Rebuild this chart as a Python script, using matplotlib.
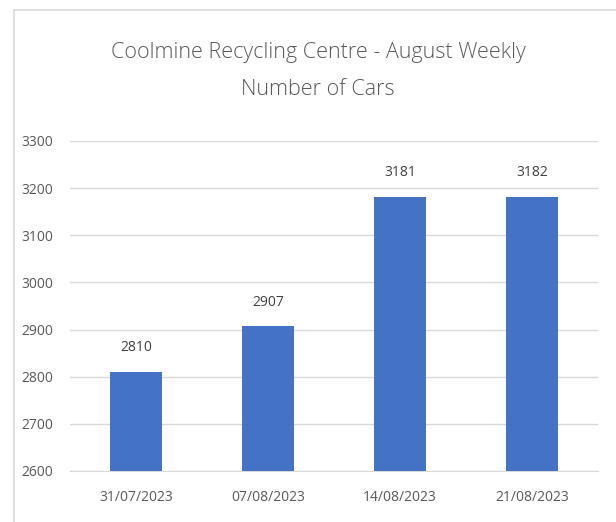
import matplotlib
matplotlib.use("Agg")
import matplotlib.pyplot as plt
from matplotlib.lines import Line2D

categories = ["31/07/2023", "07/08/2023", "14/08/2023", "21/08/2023"]
cars = [2810, 2907, 3181, 3182]
yticks = [2600, 2700, 2800, 2900, 3000, 3100, 3200, 3300]
title = "Coolmine Recycling Centre - August Weekly\nNumber of Cars"

plt.rcParams['font.family'] = ['Open Sans', 'DejaVu Sans']

fig = plt.figure(figsize=(6.16, 5.22), dpi=100)
fig.patch.set_facecolor("white")
ax = fig.add_axes([70/616, 1-471/522, 528/616, 330/522])

x = range(len(categories))
bars = ax.bar(x, cars, width=0.4, color="#4472C4", zorder=3)
ax.set_ylim(2600, 3300)
ax.set_xlim(-0.5, len(categories)-0.5)
ax.set_yticks(yticks)
ax.set_xticks(list(x))
ax.set_xticklabels(categories)
ax.grid(axis="y", color="#D9D9D9", linewidth=1, zorder=0)
for s in ["top", "right", "left"]:
    ax.spines[s].set_visible(False)
ax.spines["bottom"].set_color("#D9D9D9")
ax.tick_params(axis="both", length=0, colors="#595959", labelsize=10)
ax.tick_params(axis="y", pad=12)
ax.tick_params(axis="x", pad=14)
for xi, v in zip(x, cars):
    ax.annotate(str(v), (xi, v), xytext=(0, 12), textcoords="offset points",
                ha="center", va="bottom", fontsize=10, color="#404040")

fig.text(318/616, 1-71/522, title, ha="center", va="center", fontsize=15.5,
         color="#595959", linespacing=2.0, fontweight="light")

fig.add_artist(Line2D([14/616, 14/616], [0, 1-10/522], transform=fig.transFigure,
                      color="#D9D9D9", linewidth=1.2))
fig.add_artist(Line2D([14/616, 1], [1-10/522, 1-10/522], transform=fig.transFigure,
                      color="#D9D9D9", linewidth=1.2))

fig.savefig("out.png", dpi=100, facecolor="white")
